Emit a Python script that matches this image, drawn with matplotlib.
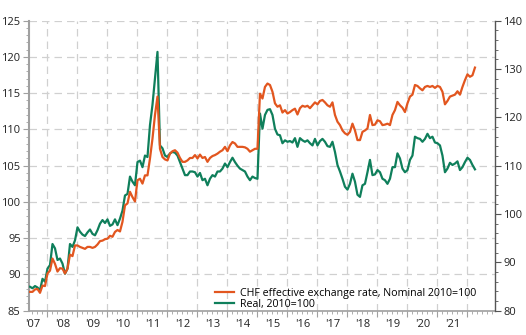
import matplotlib
matplotlib.use('Agg')
import matplotlib.pyplot as plt
import matplotlib.transforms as mtransforms
from matplotlib.ticker import MultipleLocator
import numpy as np

plt.rcParams['font.family'] = ['Open Sans', 'DejaVu Sans']

# monthly observations, first one June 2007
start_year = 2007 + 5 / 12

# Real, 2010=100 (left axis)
real = [88.3, 88.1, 88.4, 88.2, 87.8, 89.4, 89.0, 90.8, 91.3, 94.2,
        93.6, 92.0, 92.2, 91.5, 90.1, 90.8, 94.2, 93.8, 94.7, 96.5,
        95.9, 95.5, 95.3, 95.8, 96.2, 95.6, 95.4, 96.1, 97.0, 97.5,
        97.1, 97.6, 96.7, 96.9, 97.6, 96.8, 97.7, 98.8, 100.9, 101.1,
        103.5, 102.8, 102.3, 105.5, 105.7, 104.8, 106.4, 106.2, 110.6, 113.4,
        117.0, 120.7, 107.8, 107.4, 106.4, 106.2, 106.7, 106.9, 106.8, 106.4,
        105.5, 104.6, 103.7, 103.7, 104.2, 104.2, 104.1, 103.5, 104.0, 103.0,
        103.2, 102.3, 103.2, 103.7, 103.5, 104.2, 104.2, 104.6, 105.3, 104.8,
        105.5, 106.1, 105.5, 105.0, 104.6, 104.4, 104.2, 103.5, 103.0, 103.5,
        103.3, 103.2, 112.2, 110.1, 112.0, 112.7, 112.8, 112.0, 110.1, 109.3,
        109.2, 108.1, 108.5, 108.3, 108.4, 108.2, 108.8, 107.6, 108.8, 108.5,
        108.3, 108.5, 108.1, 107.8, 108.7, 107.8, 108.4, 108.7, 108.3, 107.7,
        107.6, 108.3, 106.9, 105.1, 104.2, 103.2, 102.1, 101.7, 102.5, 103.9,
        102.8, 101.0, 100.7, 102.3, 102.5, 104.1, 105.8, 103.7, 103.8, 104.4,
        104.1, 103.2, 103.0, 102.5, 103.2, 104.8, 104.8, 106.7, 106.0, 104.6,
        104.1, 104.4, 105.8, 106.4, 109.0, 108.8, 108.7, 108.3, 108.7, 109.4,
        108.8, 109.0, 108.2, 108.1, 107.8, 106.4, 104.1, 104.6, 105.4, 105.1,
        105.3, 105.6, 104.4, 104.8, 105.5, 106.1, 105.8, 105.1, 104.5]

# CHF effective exchange rate, nominal, 2010=100 (right axis)
nominal = [83.9, 83.9, 84.4, 84.5, 83.7, 85.2, 85.1, 87.7, 88.3, 90.8,
           89.7, 88.1, 88.8, 88.7, 87.7, 88.7, 91.6, 91.3, 93.5, 93.5,
           93.2, 93.0, 92.8, 93.2, 93.2, 93.0, 93.2, 93.7, 94.4, 94.5,
           94.8, 94.9, 95.5, 95.3, 96.3, 96.7, 96.4, 98.4, 101.8, 102.2,
           104.6, 103.5, 102.6, 107.0, 107.3, 106.3, 108.0, 108.0, 111.5, 115.6,
           120.5, 124.3, 113.5, 111.8, 111.3, 111.1, 112.5, 113.0, 113.2, 112.7,
           111.6, 110.8, 110.8, 111.1, 111.6, 111.6, 112.2, 111.5, 112.3, 111.6,
           111.8, 110.8, 111.6, 112.0, 112.2, 112.5, 112.9, 113.2, 113.9, 113.0,
           114.2, 114.9, 114.6, 113.9, 113.9, 113.9, 113.8, 113.5, 112.9, 113.2,
           113.5, 113.5, 124.9, 123.9, 126.3, 127.0, 126.7, 125.3, 122.9, 122.2,
           122.5, 121.0, 121.5, 120.8, 121.1, 121.5, 121.8, 120.6, 121.9, 122.4,
           122.2, 122.4, 121.9, 122.5, 123.1, 122.7, 123.4, 123.6, 123.1, 122.5,
           122.2, 123.1, 120.5, 119.1, 118.4, 117.3, 116.7, 116.4, 117.0, 118.7,
           117.3, 115.3, 115.3, 117.0, 117.3, 117.7, 120.5, 118.4, 118.5, 119.4,
           119.2, 118.4, 118.5, 118.7, 118.4, 120.5, 121.5, 123.2, 122.5, 122.0,
           121.1, 122.9, 124.3, 124.7, 126.7, 126.5, 126.0, 125.6, 126.3, 126.5,
           126.3, 126.5, 126.1, 126.5, 126.3, 125.3, 122.7, 123.4, 124.3, 124.5,
           124.7, 125.4, 124.7, 126.3, 127.7, 128.9, 128.4, 128.7, 130.3]

years = list(range(2007, 2022))
year_labels = ["'07", "'08", "'09", "'10", "'11", "'12", "'13", "'14",
               "'15", "'16", "'17", "'18", "'19", "'20", "'21"]

orange = '#E2561F'
green = '#0F7F5B'
grey = '#A0A0A0'

x = start_year + np.arange(len(real)) / 12

fig = plt.figure(figsize=(5.26, 3.35), dpi=100)
ax = fig.add_axes([0.0551, 0.0725, 0.8859, 0.8657])
ax2 = ax.twinx()

l_real, = ax.plot(x, real, color=green, lw=1.6, zorder=3)
l_nom, = ax2.plot(x, nominal, color=orange, lw=1.6, zorder=3)

ax.set_xlim(2007.383, 2022.917)
ax.set_ylim(85, 125)
ax2.set_ylim(80, 140)

ax.yaxis.set_major_locator(MultipleLocator(5))
ax.yaxis.set_minor_locator(MultipleLocator(1))
ax2.yaxis.set_major_locator(MultipleLocator(10))
ax2.yaxis.set_minor_locator(MultipleLocator(2))

ax.set_xticks(range(2008, 2023))
ax.set_xticklabels([])
ax.xaxis.set_minor_locator(MultipleLocator(1 / 6))

ax.grid(True, which='major', color='#D0D0D0', linestyle=(0, (6, 4)), lw=0.9)
ax.set_axisbelow(True)

for a in (ax, ax2):
    a.spines['top'].set_visible(False)
ax.spines['left'].set_color(grey)
ax.spines['left'].set_linewidth(1.5)
ax.spines['bottom'].set_color(grey)
ax.spines['bottom'].set_linewidth(1.2)
ax.spines['right'].set_visible(False)
ax2.spines['left'].set_visible(False)
ax2.spines['bottom'].set_visible(False)
ax2.spines['right'].set_color('#555555')
ax2.spines['right'].set_linewidth(1.0)

ax.tick_params(axis='y', which='major', length=4, color=grey, labelsize=8,
               labelcolor='#222222', pad=2)
ax.tick_params(axis='y', which='minor', length=2, color=grey)
ax.tick_params(axis='x', which='major', length=4, color=grey)
ax.tick_params(axis='x', which='minor', length=2, color=grey)
ax2.tick_params(axis='y', which='major', length=4, color='#555555', labelsize=8,
                labelcolor='#222222', pad=2)
ax2.tick_params(axis='y', which='minor', length=2, color='#555555')

trans = mtransforms.blended_transform_factory(ax.transData, ax.transAxes)
for yr, lab in zip(years, year_labels):
    ax.text(yr + 0.5, -0.048, lab, transform=trans, ha='center', va='center',
            fontsize=8, color='#222222')

fig.legend([l_nom, l_real],
           ['CHF effective exchange rate, Nominal 2010=100', 'Real, 2010=100'],
           loc='lower left', bbox_to_anchor=(0.405, 0.068), frameon=False,
           fontsize=7.7, handlelength=1.8, handletextpad=0.5, labelspacing=0.05,
           borderpad=0.2, borderaxespad=0)

fig.savefig('out.png', dpi=100)
